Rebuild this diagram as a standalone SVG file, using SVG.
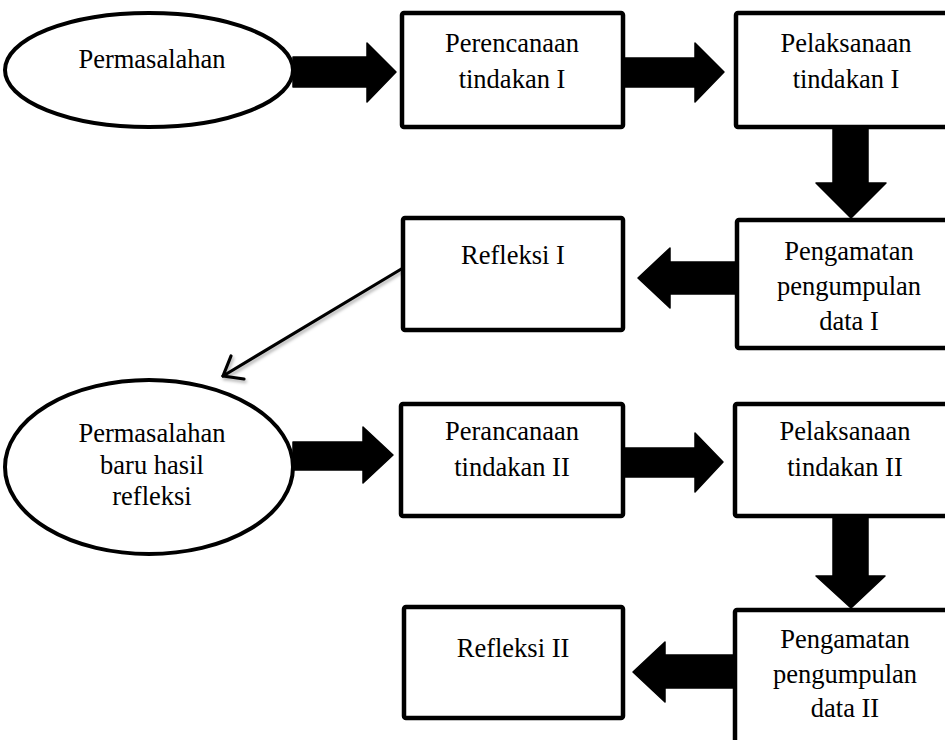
<svg xmlns="http://www.w3.org/2000/svg" width="945" height="740" viewBox="0 0 945 740">
<style>
.box{fill:#fff;stroke:#000;stroke-width:4.5}
.ell{fill:#fff;stroke:#000;stroke-width:4}
.fat{fill:#000;stroke:#000;stroke-width:1.5;stroke-linejoin:round}
.thin{fill:none;stroke:#000;stroke-width:3.2;stroke-linecap:round;stroke-linejoin:round}
text{font-family:"Liberation Serif","Times New Roman",serif;font-size:26.5px;fill:#000;text-anchor:middle}
</style>
<defs>
<filter id="sh" x="-20%" y="-20%" width="140%" height="140%">
<feDropShadow dx="1.5" dy="2.5" stdDeviation="1.5" flood-color="#000" flood-opacity="0.3"/>
</filter>
</defs>
<rect width="945" height="740" fill="#fff"/>
<g id="connectors">
<polygon class="fat" points="293,57 367,57 367,43 396,72 367,102 367,87 293,87"/>
<polygon class="fat" points="623,58 695,58 695,43 724,72 695,102 695,87 623,87"/>
<polygon class="fat" points="833,127 868,127 868,183 886,183 851,218 816,183 833,183"/>
<polygon class="fat" points="737,262 670,262 670,248 638,278 670,308 670,294 737,294"/>
<g filter="url(#sh)">
<line class="thin" x1="403" y1="268" x2="223" y2="376"/>
<polyline class="thin" points="231,356 223,376 244,379"/>
</g>
<polygon class="fat" points="293,442 363,442 363,427 393,455 363,483 363,470 293,470"/>
<polygon class="fat" points="623,448 695,448 695,433 723,462 695,492 695,477 623,477"/>
<polygon class="fat" points="833,514 868,514 868,576 885,576 851,608 816,576 833,576"/>
<polygon class="fat" points="735,655 665,655 665,642 633,672 665,702 665,688 735,688"/>
</g>
<g id="n-permasalahan">
<ellipse class="ell" cx="149" cy="70" rx="144" ry="57"/>
<text x="152" y="68">Permasalahan</text>
</g>
<g id="n-perencanaan1">
<rect class="box" x="402" y="13" width="221" height="114" rx="2"/>
<text x="512" y="52">Perencanaan</text>
<text x="512" y="88">tindakan I</text>
</g>
<g id="n-pelaksanaan1">
<rect class="box" x="736" y="13" width="221" height="114" rx="2"/>
<text x="846" y="52">Pelaksanaan</text>
<text x="846" y="88">tindakan I</text>
</g>
<g id="n-pengamatan1">
<rect class="box" x="737" y="220" width="221" height="128" rx="2"/>
<text x="849" y="260">Pengamatan</text>
<text x="849" y="295">pengumpulan</text>
<text x="849" y="330">data I</text>
</g>
<g id="n-refleksi1">
<rect class="box" x="403" y="218" width="220" height="112" rx="2"/>
<text x="513" y="264">Refleksi I</text>
</g>
<g id="n-permasalahan-baru">
<ellipse class="ell" cx="149" cy="467" rx="144" ry="87"/>
<text x="152" y="442">Permasalahan</text>
<text x="152" y="474">baru hasil</text>
<text x="152" y="505">refleksi</text>
</g>
<g id="n-perancanaan2">
<rect class="box" x="401" y="404" width="222" height="112" rx="2"/>
<text x="512" y="440">Perancanaan</text>
<text x="512" y="476">tindakan II</text>
</g>
<g id="n-pelaksanaan2">
<rect class="box" x="735" y="404" width="222" height="112" rx="2"/>
<text x="845" y="440">Pelaksanaan</text>
<text x="845" y="476">tindakan II</text>
</g>
<g id="n-pengamatan2">
<rect class="box" x="735" y="610" width="222" height="150" rx="2"/>
<text x="845" y="648">Pengamatan</text>
<text x="845" y="683">pengumpulan</text>
<text x="845" y="717">data II</text>
</g>
<g id="n-refleksi2">
<rect class="box" x="404" y="607" width="219" height="111" rx="2"/>
<text x="513" y="657">Refleksi II</text>
</g>
</svg>
